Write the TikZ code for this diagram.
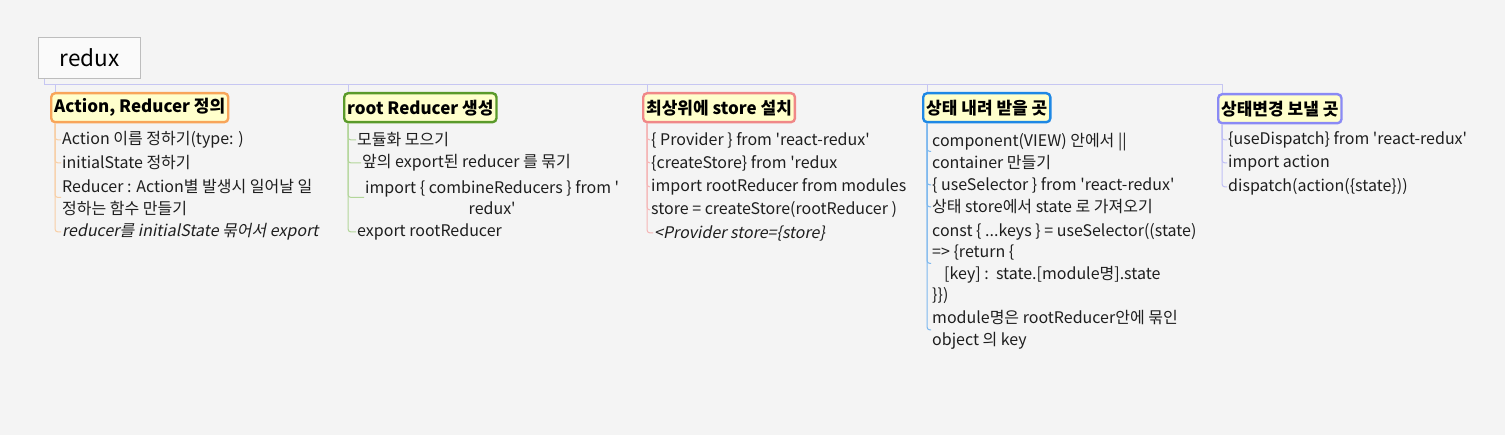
\documentclass[tikz,border=0pt]{standalone}
\usepackage{fontspec}
\usepackage{tikz}
\newfontfamily\krfont{Noto Sans CJK KR}[ItalicFont={Noto Sans CJK KR}, ItalicFeatures={FakeSlant=0.2}]
\definecolor{bggray}{HTML}{F4F4F4}
\definecolor{rootfill}{HTML}{FAFAFA}
\definecolor{rootdraw}{HTML}{BDBDBD}
\definecolor{rootblue}{HTML}{C6C6F2}
\definecolor{topicfill}{HTML}{FFFFCC}
\definecolor{textgray}{HTML}{1E1E1E}
\definecolor{korange}{HTML}{F8A55A}
\definecolor{korangel}{HTML}{F8CFA6}
\definecolor{kgreen}{HTML}{5A9A2A}
\definecolor{kgreenl}{HTML}{B3D69A}
\definecolor{kred}{HTML}{F08888}
\definecolor{kredl}{HTML}{F4B6B6}
\definecolor{kblue}{HTML}{1E88E5}
\definecolor{kbluel}{HTML}{7DB8EE}
\definecolor{kviolet}{HTML}{8A8AF5}
\definecolor{kviolet l}{HTML}{C0C0F5}
\tikzset{
  topic/.style={draw=#1, fill=topicfill, line width=2.4pt, rounded corners=4pt,
    anchor=north west, inner xsep=3pt, inner ysep=0pt, minimum height=29pt,
    font=\krfont\bfseries\fontsize{17}{20}\selectfont, text=black},
  leaf/.style={anchor=west, inner xsep=1pt, inner ysep=1pt, align=left,
    font=\krfont\fontsize{16}{21.5}\selectfont, text=textgray},
  branch/.style={draw=#1, line width=1pt, rounded corners=3pt},
  rootline/.style={draw=rootblue, line width=1pt}
}
\begin{document}
\begin{tikzpicture}[x=1pt, y=-1pt]
\fill[bggray] (0,0) rectangle (1505,435);
\useasboundingbox (0,0) rectangle (1505,435);
% central topic
\node[draw=rootdraw, fill=rootfill, line width=1pt, anchor=north west,
  minimum width=102pt, minimum height=41pt, font=\krfont\fontsize{22.5}{26}\selectfont]
  (redux) at (38,37) {redux};
% main topics
\node[topic=korange] (t1) at (50,92) {Action, Reducer 정의};
\node[topic=kgreen] (t2) at (343,92) {root Reducer 생성};
\node[topic=kred] (t3) at (642,92) {최상위에 store 설치};
\node[topic=kblue] (t4) at (922,92) {상태 내려 받을 곳};
\node[topic=kviolet] (t5) at (1217,93) {상태변경 보낼 곳};
\foreach \t in {t1,t2,t3,t4,t5}
  \draw[rootline] ([xshift=6pt]redux.south west) -- ++(0,6) -| ([xshift=5pt]\t.north west);
% Action, Reducer
\node[leaf] (a1) at (61,140) {Action 이름 정하기(type: )};
\node[leaf] (a2) at (61,163) {initialState 정하기};
\node[leaf] (a3) at (61,197.5) {Reducer : Action별 발생시 일어날 일\\정하는 함수 만들기};
\node[leaf, font=\krfont\itshape\fontsize{16}{21.5}\selectfont] (a4) at (61,232) {reducer를 initialState 묶어서 export};
\foreach \l in {a1,a2,a3,a4}
  \draw[branch=korangel] ([xshift=5pt]t1.south west) |- (\l.west);
% root Reducer
\node[leaf] (b1) at (356,140) {모듈화 모으기};
\node[leaf] (b2) at (361,163) {앞의 export된 reducer 를 묶기};
\node[leaf, align=center] (b3) at (364,197.5) {import \{ combineReducers \} from '\\redux'};
\node[leaf] (b4) at (356,232) {export rootReducer};
\foreach \l in {b1,b2,b3,b4}
  \draw[branch=kgreenl] ([xshift=5pt]t2.south west) |- (\l.west);
% store
\node[leaf] (c1) at (650,140) {\{ Provider \} from 'react-redux'};
\node[leaf] (c2) at (650,163) {\{createStore\} from 'redux};
\node[leaf] (c3) at (650,187) {import rootReducer from modules};
\node[leaf] (c4) at (650,210) {store = createStore(rootReducer )};
\node[leaf, font=\krfont\itshape\fontsize{16}{21.5}\selectfont] (c5) at (653,233) {<Provider store=\{store\}};
\foreach \l in {c1,c2,c3,c4,c5}
  \draw[branch=kredl] ([xshift=5pt]t3.south west) |- (\l.west);
% useSelector
\node[leaf] (d1) at (931,151.5) {component(VIEW) 안에서 ||\\container 만들기};
\node[leaf] (d2) at (931,185) {\{ useSelector \} from 'react-redux'};
\node[leaf] (d3) at (931,207) {상태 store에서 state 로 가져오기};
\node[leaf] (d4) at (931,263.5) {const \{ ...keys \} = useSelector((state)\\=> \{return \{\\\hspace{12pt}[key] :\ \ state.[module명].state\\\}\})};
\node[leaf] (d5) at (931,330) {module명은 rootReducer안에 묶인\\object 의 key};
\foreach \l in {d1,d2,d3,d4,d5}
  \draw[branch=kbluel] ([xshift=5pt]t4.south west) |- (\l.west);
% useDispatch
\node[leaf] (e1) at (1227,140) {\{useDispatch\} from 'react-redux'};
\node[leaf] (e2) at (1227,163) {import action};
\node[leaf] (e3) at (1227,187) {dispatch(action(\{state\}))};
\foreach \l in {e1,e2,e3}
  \draw[branch=kviolet l] ([xshift=5pt]t5.south west) |- (\l.west);
\end{tikzpicture}
\end{document}
